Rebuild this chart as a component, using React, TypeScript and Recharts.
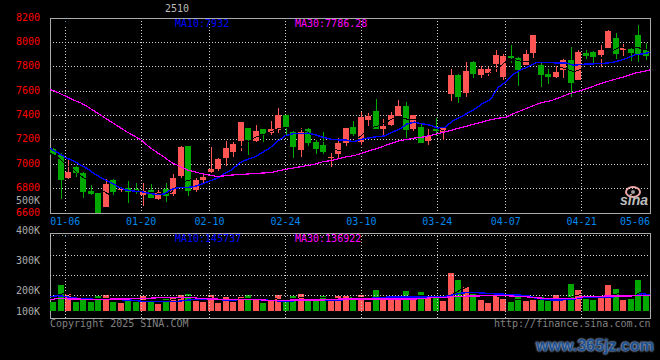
import { Bar, CartesianGrid, ComposedChart, Line, ReferenceArea, ReferenceLine, XAxis, YAxis } from 'recharts'

// one row per session: open, close, high, low
const opens = [7122,7076,6884,6980,6931,6780,6764,6652,6868,6789,6802,6794,6748,6791,6715,6794,6756,6904,7150,6789,6871,6934,6959,7049,7104,7188,7295,7191,7287,7257,7279,7402,7268,7114,7287,7186,7155,7049,7082,7172,7303,7183,7363,7434,7287,7322,7393,7476,7292,7303,7188,7295,7264,7577,7733,7585,7839,7733,7749,7823,7716,7888,7872,7815,7913,7815,7741,7716,7774,7856,7692,7913,7922,7897,7954,8036,7938,7946,8061,7938]
const closes = [7073,6871,6936,6931,6775,6758,6600,6838,6775,6797,6775,6770,6783,6726,6772,6739,6884,7144,6783,6871,6898,6961,7041,7136,7164,7347,7196,7270,7246,7287,7402,7303,7139,7268,7172,7123,7098,7063,7177,7295,7246,7388,7396,7287,7314,7402,7476,7281,7402,7177,7232,7273,7296,7733,7552,7766,7741,7779,7779,7897,7888,7872,7774,7905,8061,7733,7716,7757,7856,7667,7922,7888,7880,7938,8094,7905,7954,7913,7905,7888]
const highs = [7130,7090,7035,6985,6939,6835,6764,6876,6876,6816,6862,6849,6843,6835,6789,6849,6920,7150,7150,6884,6917,7144,7048,7191,7186,7347,7298,7320,7290,7352,7459,7405,7273,7300,7300,7197,7265,7095,7213,7300,7355,7432,7423,7533,7369,7432,7525,7508,7402,7336,7292,7377,7298,7782,7741,7840,7848,7806,7798,7938,7905,7979,7880,7938,8061,7837,7782,7815,7861,7962,7938,7938,7930,7979,8102,8077,7987,7960,8143,7995]
const lows = [7065,6715,6880,6898,6726,6748,6600,6652,6748,6758,6679,6756,6657,6720,6707,6693,6742,6890,6739,6767,6838,6930,6945,6986,7060,7109,7073,7183,7186,7240,7257,7232,7049,7060,7150,7082,7082,6978,7049,7150,7232,7164,7314,7285,7232,7314,7393,7213,7273,7172,7164,7227,7199,7519,7503,7552,7708,7708,7725,7757,7692,7831,7642,7815,7864,7634,7659,7708,7708,7552,7692,7864,7828,7796,7954,7864,7889,7847,7839,7856]
const priceMa5 = [7090,7060,7000,6960,6905,6870,6800,6780,6745,6750,6785,6790,6775,6765,6765,6755,6772,6845,6865,6880,6930,6895,6905,6940,7035,7130,7180,7220,7240,7265,7290,7305,7295,7290,7260,7210,7190,7140,7110,7120,7190,7235,7295,7310,7335,7370,7390,7370,7370,7355,7300,7290,7270,7340,7390,7480,7580,7700,7760,7790,7840,7860,7845,7845,7880,7865,7840,7800,7780,7760,7780,7810,7840,7890,7930,7960,7950,7960,7950,7930]
const priceMa10 = [7131,7095,7057,7030,6995,6960,6915,6880,6850,6815,6789,6780,6775,6762,6752,6755,6795,6808,6810,6816,6838,6862,6885,6925,6958,7012,7040,7060,7098,7136,7190,7235,7250,7252,7255,7240,7220,7205,7200,7198,7185,7205,7216,7226,7232,7262,7287,7330,7345,7332,7322,7298,7303,7355,7385,7420,7455,7500,7532,7630,7675,7738,7775,7800,7834,7834,7834,7830,7830,7812,7820,7823,7825,7828,7836,7850,7870,7898,7905,7919]
const priceMa30 = [7615,7590,7560,7530,7505,7470,7430,7390,7350,7310,7270,7235,7199,7145,7100,7060,7015,6985,6955,6938,6922,6910,6900,6905,6912,6915,6920,6924,6928,6931,6945,6958,6968,6980,6991,7002,7022,7030,7045,7062,7070,7090,7110,7128,7150,7172,7194,7203,7215,7222,7235,7250,7265,7282,7298,7315,7332,7348,7365,7378,7385,7415,7440,7465,7490,7510,7522,7545,7570,7590,7606,7628,7650,7672,7690,7708,7725,7748,7760,7774]

const volumes = [160,217,187,160,172,160,181,183,160,157,163,160,180,160,153,170,177,183,187,163,160,183,157,177,160,177,183,173,157,167,183,160,180,187,170,167,180,167,180,180,177,183,160,200,180,170,170,197,177,193,173,180,163,257,233,210,187,167,157,183,170,160,177,163,170,177,163,183,167,220,200,170,167,173,217,203,167,170,233,187]
const volumeMa5 = [170,185,188,180,178,176,171,171,171,168,170,167,165,163,163,165,167,172,178,178,176,176,168,169,165,171,172,172,175,172,170,169,172,174,175,176,176,175,172,172,174,176,170,176,178,176,176,180,182,182,178,176,170,185,200,212,220,212,190,178,172,170,170,168,170,170,170,172,172,180,186,188,182,178,182,190,186,182,196,192]
const volumeMa10 = [178,181,179,174,172,171,169,169,169,168,167,166,163,161,161,161,162,163,166,169,170,170,169,167,167,168,169,169,167,166,164,164,164,166,166,167,167,167,167,168,170,170,172,174,176,177,177,177,177,177,177,177,179,184,189,192,192,190,188,187,186,184,183,181,172,170,167,167,168,170,174,177,177,177,177,179,181,181,188,184]
const volumeMa30 = [167,172,171,170,170,169,169,169,170,170,170,171,172,173,174,176,176,176,174,174,172,170,170,169,168,168,168,168,167,166,164,166,167,167,167,167,167,168,170,170,170,170,170,170,170,170,170,170,170,172,174,174,176,178,179,180,180,181,181,181,181,180,179,177,174,173,173,173,172,172,177,179,179,180,180,180,180,181,181,181]

const priceTicks = [6600,6800,7000,7200,7400,7600,7800,8000,8200]
const dateTickIndexes = [2,12,21,31,41,51,60,70,79]
const dateTickLabels = ['01-06','01-20','02-10','02-24','03-10','03-24','04-07','04-21','05-06']
const volumeTicks = [130,200,300,400,500]
const volumeTickLabels = ['100K','200K','300K','400K','500K']
const volumeGridValues = [183.3,250,316.7,383.3]

const rows = opens.map((open, idx) => ({
  idx,
  open,
  close: closes[idx],
  high: highs[idx],
  low: lows[idx],
  ma5: priceMa5[idx],
  ma10: priceMa10[idx],
  ma30: priceMa30[idx],
  volume: volumes[idx],
  volMa5: volumeMa5[idx],
  volMa10: volumeMa10[idx],
  volMa30: volumeMa30[idx],
}))

const UP = '#ff5555'
const DOWN = '#00a800'
const FRAME = '#aaaaaa'
const DOTS = '#d0d0d0'
const MONO = '"DejaVu Sans Mono", monospace'
const VOL_TOP = 387
const VOL_BOTTOM = 107
const VOL_BASE = 130

function Candle(props: any) {
  const { x, y, width, height, payload } = props
  const perUnit = height / (payload.high - payload.low || 1)
  const toPx = (v: number) => y + (payload.high - v) * perUnit
  const top = Math.round(toPx(Math.max(payload.open, payload.close)))
  const bottom = Math.round(toPx(Math.min(payload.open, payload.close)))
  const left = Math.round(x)
  const color = payload.close >= payload.open ? UP : DOWN
  return (
    <g shapeRendering="crispEdges">
      <rect x={left + 3} y={Math.round(y)} width={1} height={Math.max(1, Math.round(height))} fill={color} />
      <rect x={left} y={top} width={width * 0.8} height={Math.max(1, bottom - top)} fill={color} />
    </g>
  )
}

function VolumeBar(props: any) {
  const { x, y, width, height, payload } = props
  const color = payload.close >= payload.open ? UP : DOWN
  return (
    <rect
      x={Math.round(x)}
      y={Math.round(y)}
      width={width * 0.8}
      height={Math.round(height)}
      fill={color}
      shapeRendering="crispEdges"
    />
  )
}

function DateTick(props: any) {
  const { x, y, payload } = props
  const isLast = payload.value === dateTickIndexes[dateTickIndexes.length - 1]
  return (
    <text x={x} y={y + 4} fill="#0088ee" fontSize={10} fontFamily={MONO} textAnchor={isLast ? 'end' : 'middle'}>
      {dateTickLabels[dateTickIndexes.indexOf(payload.value)]}
    </text>
  )
}

const lineProps = {
  xAxisId: 'dates',
  dot: false,
  isAnimationActive: false,
  shapeRendering: 'crispEdges',
  type: 'linear' as const,
}

function Note({ x, y, color, children, size = 10 }: any) {
  return (
    <div
      style={{
        position: 'absolute',
        left: x,
        top: y,
        color,
        fontSize: size,
        lineHeight: '12px',
        fontFamily: MONO,
        whiteSpace: 'pre',
      }}
    >
      {children}
    </div>
  )
}

function PriceChart() {
  return (
    <ComposedChart
      width={660}
      height={360}
      data={rows}
      barCategoryGap={0}
      margin={{ top: 18, right: 10, bottom: 127, left: 0 }}
      style={{ position: 'absolute', left: 0, top: 0 }}
    >
      <CartesianGrid xAxisId="dates" stroke={DOTS} strokeDasharray="1 2" shapeRendering="crispEdges" />
      <XAxis xAxisId="slots" dataKey="idx" type="category" hide />
      <XAxis
        xAxisId="dates"
        dataKey="idx"
        type="number"
        domain={[0, 79]}
        ticks={dateTickIndexes}
        interval={0}
        height={20}
        axisLine={false}
        tickLine={false}
        tick={<DateTick />}
      />
      <YAxis
        domain={[6600, 8200]}
        ticks={priceTicks}
        interval={0}
        width={50}
        axisLine={false}
        tickLine={false}
        tickMargin={4}
        tick={{ fill: '#ff0000', fontSize: 10, fontFamily: MONO, dy: -1 }}
      />
      <ReferenceArea xAxisId="dates" x1={0} x2={79} y1={6600} y2={8200} fill="none" stroke={FRAME} shapeRendering="crispEdges" />
      <Bar xAxisId="slots" dataKey={(d: any) => [d.low, d.high]} shape={<Candle />} isAnimationActive={false} />
      <Line {...lineProps} dataKey="ma5" stroke="#000000" strokeWidth={1} />
      <Line {...lineProps} dataKey="ma10" stroke="#0000ff" strokeWidth={1.4} />
      <Line {...lineProps} dataKey="ma30" stroke="#ff00ff" strokeWidth={1.2} />
    </ComposedChart>
  )
}

function VolumeChart() {
  return (
    <ComposedChart
      width={660}
      height={360}
      data={rows}
      barCategoryGap={0}
      margin={{ top: 200, right: 10, bottom: 42, left: 0 }}
      style={{ position: 'absolute', left: 0, top: 0 }}
    >
      <XAxis xAxisId="slots" dataKey="idx" type="category" hide />
      <XAxis xAxisId="dates" dataKey="idx" type="number" domain={[0, 79]} hide />
      <YAxis
        domain={[VOL_BOTTOM, 500]}
        ticks={volumeTicks}
        interval={0}
        width={50}
        axisLine={false}
        tickLine={false}
        tickMargin={4}
        tickFormatter={(v: number) => volumeTickLabels[volumeTicks.indexOf(v)]}
        tick={{ fill: '#aaaaaa', fontSize: 10, fontFamily: MONO }}
      />
      {volumeGridValues.map((v) => (
        <ReferenceLine key={v} xAxisId="dates" y={v} stroke={DOTS} strokeDasharray="1 2" shapeRendering="crispEdges" />
      ))}
      {dateTickIndexes.slice(0, -1).map((i) => (
        <ReferenceLine
          key={i}
          xAxisId="dates"
          segment={[{ x: i, y: VOL_BOTTOM }, { x: i, y: VOL_TOP }]}
          stroke={DOTS}
          strokeDasharray="1 2"
          shapeRendering="crispEdges"
        />
      ))}
      <ReferenceArea xAxisId="dates" x1={0} x2={79} y1={VOL_BOTTOM} y2={VOL_TOP} fill="none" stroke={FRAME} shapeRendering="crispEdges" />
      <Bar xAxisId="slots" dataKey={(d: any) => [VOL_BASE, d.volume]} shape={<VolumeBar />} isAnimationActive={false} />
      <Line {...lineProps} dataKey="volMa5" stroke="#000000" strokeWidth={1} />
      <Line {...lineProps} dataKey="volMa10" stroke="#0000ff" strokeWidth={1.4} />
      <Line {...lineProps} dataKey="volMa30" stroke="#ff00ff" strokeWidth={1.2} />
    </ComposedChart>
  )
}

export default function App() {
  return (
    <div style={{ position: 'fixed', left: 0, top: 0, width: 660, height: 360, background: '#000', overflow: 'hidden' }}>
      <PriceChart />
      <VolumeChart />
      <Note x={165} y={3} color="#bbbbbb">2510</Note>
      <Note x={55} y={18} color="#000000">MA5:7930.60</Note>
      <Note x={175} y={18} color="#0000ff">MA10:7932</Note>
      <Note x={295} y={18} color="#ff00ff">MA30:7786.28</Note>
      <Note x={55} y={233} color="#000000">MA5:157213</Note>
      <Note x={175} y={233} color="#0000ff">MA10:145737</Note>
      <Note x={295} y={233} color="#ff00ff">MA30:136922</Note>
      <Note x={50} y={318} color="#808080">Copyright 2025 SINA.COM</Note>
      <Note x={494} y={318} color="#808080">http://finance.sina.com.cn</Note>
      <svg width={40} height={26} style={{ position: 'absolute', left: 618, top: 183 }}>
        <ellipse cx={15} cy={9} rx={7} ry={5} fill="none" stroke="#eba8a8" strokeWidth={2} />
        <circle cx={15} cy={9} r={2} fill="#999" />
        <text x={2} y={22} fill="#bdbdbd" fontSize={14} fontWeight="bold" fontStyle="italic" fontFamily="Liberation Sans">
          sina
        </text>
      </svg>
      <div
        style={{
          position: 'absolute',
          left: 536,
          top: 336,
          fontFamily: '"Liberation Sans", sans-serif',
          fontWeight: 'bold',
          fontSize: 16,
          lineHeight: '20px',
          color: '#1c4f8f',
          textShadow: '0 0 2px #a9bdd6, 0 0 2px #a9bdd6',
          whiteSpace: 'pre',
        }}
      >
        www.365jz.com
      </div>
    </div>
  )
}
